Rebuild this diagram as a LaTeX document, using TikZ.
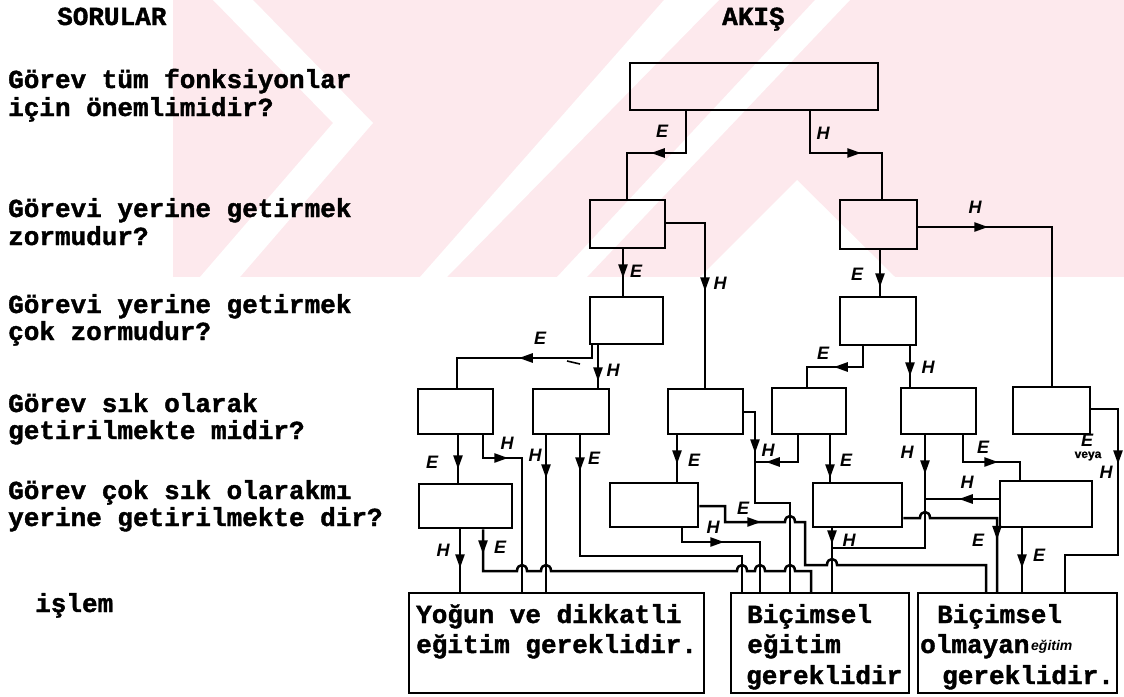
\documentclass[tikz,border=0pt]{standalone}
\usepackage{fontspec}
\setmainfont{Liberation Mono}[BoldFeatures={FakeBold=1.5}]
\newfontfamily\lab{Liberation Sans}[BoldFeatures={FakeBold=1}]
\usetikzlibrary{arrows.meta,decorations.markings}
\definecolor{wmpink}{RGB}{253,233,237}
\begin{document}
\begin{tikzpicture}[x=1pt,y=-1pt,
 qbox/.style={draw,line width=2.5pt,inner sep=0pt},
 conn/.style={line width=2.5pt},
 arrowat/.style={postaction={decorate},decoration={markings,mark=at position #1 with {\arrow{Triangle[length=14pt,width=9pt]}}}},
 lbl/.style={font=\lab\bfseries\itshape\fontsize{18}{18}\selectfont,inner sep=0pt},
 qt/.style={font=\bfseries\fontsize{26}{26}\selectfont,anchor=base west,inner sep=0pt},
 hand/.style={font=\lab\bfseries\itshape\fontsize{14}{14}\selectfont,inner sep=0pt},
 wm/.style={fill=wmpink},
 wmgap/.style={fill=white},
]
\useasboundingbox (0,0) rectangle (1124,696);
% faint watermark band
\fill[wm] (173,0) rectangle (1124,277);
\fill[wmgap] (213,0) -- (253,0) -- (373,123) -- (240,277) -- (200,277) -- (333,123) -- cycle;
\fill[wmgap] (664,0) -- (719,0) -- (447,277) -- (420,277) -- cycle;
\fill[wmgap] (815,0) -- (850,0) -- (587,277) -- (557,277) -- cycle;
\fill[wmgap] (797,180) -- (895,277) -- (700,277) -- cycle;
% headers and questions
\node[qt] (h1) at (57,25) {SORULAR};
\node[qt] (h2) at (722,25) {AKIŞ};
\node[qt] (q1a) at (8,88) {Görev tüm fonksiyonlar};
\node[qt] (q1b) at (8,116) {için önemlimidir?};
\node[qt] (q2a) at (8,217) {Görevi yerine getirmek};
\node[qt] (q2b) at (8,245) {zormudur?};
\node[qt] (q3a) at (8,313) {Görevi yerine getirmek};
\node[qt] (q3b) at (8,340) {çok zormudur?};
\node[qt] (q4a) at (8,412) {Görev sık olarak};
\node[qt] (q4b) at (8,439) {getirilmekte midir?};
\node[qt] (q5a) at (8,499) {Görev çok sık olarakmı};
\node[qt] (q5b) at (8,526) {yerine getirilmekte dir?};
\node[qt] (q6) at (35,612) {işlem};
% boxes
\node[qbox,minimum width=248pt,minimum height=47pt] (T) at (754,86.5) {};
\node[qbox,minimum width=75pt,minimum height=48pt] (L2) at (627.5,224) {};
\node[qbox,minimum width=77pt,minimum height=49pt] (R2) at (878.5,224.5) {};
\node[qbox,minimum width=73pt,minimum height=47pt] (L3) at (626.5,320.5) {};
\node[qbox,minimum width=76pt,minimum height=48pt] (R3) at (878,321) {};
\node[qbox,minimum width=75pt,minimum height=45pt] (A4) at (455.5,411.5) {};
\node[qbox,minimum width=76pt,minimum height=45pt] (B4) at (571,411.5) {};
\node[qbox,minimum width=75pt,minimum height=45pt] (C4) at (705.5,411.5) {};
\node[qbox,minimum width=74pt,minimum height=46pt] (D4) at (809,411) {};
\node[qbox,minimum width=75pt,minimum height=46pt] (E4) at (938.5,411) {};
\node[qbox,minimum width=77pt,minimum height=47pt] (F4) at (1051.5,410.5) {};
\node[qbox,minimum width=93pt,minimum height=44pt] (A5) at (465.5,506) {};
\node[qbox,minimum width=88pt,minimum height=44pt] (C5) at (654,505) {};
\node[qbox,minimum width=89pt,minimum height=44pt] (D5) at (857.5,505) {};
\node[qbox,minimum width=92pt,minimum height=46pt] (F5) at (1046,504) {};
\node[qbox,minimum width=295pt,minimum height=100pt] (O1) at (556.5,643) {};
\node[qbox,minimum width=178pt,minimum height=100pt] (O2) at (820,643) {};
\node[qbox,minimum width=199pt,minimum height=100pt] (O3) at (1017.5,643) {};
% output texts
\node[qt] (o1a) at (416,623) {Yoğun ve dikkatli};
\node[qt] (o1b) at (416,653) {eğitim gereklidir.};
\node[qt] (o2a) at (747,623) {Biçimsel};
\node[qt] (o2b) at (747,653) {eğitim};
\node[qt] (o2c) at (746,684) {gereklidir};
\node[qt] (o3a) at (937,623) {Biçimsel};
\node[qt] (o3b) at (920,653) {olmayan};
\node[hand,anchor=base west] (o3h) at (1031,650) {eğitim};
\node[qt] (o3c) at (942,684) {gereklidir.};
% connectors
\draw[conn,arrowat=77pt] (686,0 |- T.south) -- (686,153) -- (627,153) -- (627,0 |- L2.north);
\draw[conn,arrowat=93pt] (810,0 |- T.south) -- (810,153) -- (882,153) -- (882,0 |- R2.north);
\draw[conn,arrowat=29pt] (623,0 |- L2.south) -- (623,0 |- L3.north);
\draw[conn,arrowat=107pt] (0,223 -| L2.east) -- (705,223) -- (705,0 |- C4.north);
\draw[conn,arrowat=37pt] (880,0 |- R2.south) -- (880,0 |- R3.north);
\draw[conn,arrowat=70pt] (0,227 -| R2.east) -- (1052,227) -- (1052,0 |- F4.north);
\draw[conn,arrowat=86pt] (592,0 |- L3.south) -- (592,358) -- (457,358) -- (457,0 |- A4.north);
\draw[conn,line width=1.6pt] (567,361) -- (580,364);
\draw[conn,arrowat=36pt] (598,0 |- L3.south) -- (598,0 |- B4.north);
\draw[conn,arrowat=50pt] (863,0 |- R3.south) -- (863,367) -- (807,367) -- (807,0 |- D4.north);
\draw[conn,arrowat=30pt] (910,0 |- R3.south) -- (910,0 |- E4.north);
% row 4
\draw[conn,arrowat=34pt] (458,0 |- A4.south) -- (458,0 |- A5.north);
\draw[conn,arrowat=48pt] (483,0 |- A4.south) -- (483,458) -- (522,458) -- (522,0 |- O1.north);
\draw[conn,arrowat=43pt] (546,0 |- B4.south) -- (546,0 |- O1.north);
\draw[conn,arrowat=36pt] (580,0 |- B4.south) -- (580,556) -- (742,556) -- (742,0 |- O2.north);
\draw[conn,arrowat=29pt] (677,0 |- C4.south) -- (677,0 |- C5.north);
\draw[conn,arrowat=52pt] (0,412 -| C4.east) -- (755,412) -- (755,503) -- (790,503) -- (790,0 |- O2.north);
\draw[conn,arrowat=59pt] (798,0 |- D4.south) -- (798,462) -- (755,462);
\draw[conn,arrowat=43pt] (830,0 |- D4.south) -- (830,0 |- D5.north);
\draw[conn,arrowat=39pt] (925,0 |- E4.south) -- (925,548) -- (832,548);
\draw[conn,arrowat=62pt] (963,0 |- E4.south) -- (963,462) -- (1020,462) -- (1020,0 |- F5.north);
\draw[conn,arrowat=82pt] (0,409 -| F4.east) -- (1118,409) -- (1118,555) -- (1065,555) -- (1065,0 |- O3.north);
% row 5
\draw[conn,arrowat=39pt] (460,0 |- A5.south) -- (460,0 |- O1.north);
\draw[conn,arrowat=25pt] (483,0 |- A5.south) -- (483,571)
  -- (517,571) .. controls (517,563) and (527,563) .. (527,571)
  -- (541,571) .. controls (541,563) and (551,563) .. (551,571)
  -- (737,571) .. controls (737,563) and (747,563) .. (747,571)
  -- (755,571) .. controls (755,563) and (765,563) .. (765,571)
  -- (785,571) .. controls (785,563) and (795,563) .. (795,571)
  -- (811,571) -- (811,0 |- O2.north);
\draw[conn,arrowat=78pt] (0,506 -| C5.east) -- (725,506) -- (725,522)
  -- (785,522) .. controls (785,514) and (795,514) .. (795,522)
  -- (805,522) -- (805,565)
  -- (827,565) .. controls (827,557) and (837,557) .. (837,565)
  -- (986,565) -- (986,0 |- O3.north);
\draw[conn,arrowat=56pt] (682,0 |- C5.south) -- (682,542) -- (760,542) -- (760,0 |- O2.north);
\draw[conn,arrowat=16pt] (832,0 |- D5.south) -- (832,0 |- O2.north);
\draw[conn,arrowat=123pt] (0,518 -| D5.east) -- (920,518) .. controls (920,510) and (930,510) .. (930,518) -- (997,518) -- (997,0 |- O3.north);
\draw[conn,arrowat=40pt] (0,499 -| F5.west) -- (925,499);
\draw[conn,arrowat=40pt] (1022,0 |- F5.south) -- (1022,0 |- O3.north);
% labels
\node[lbl] (l1) at (662,131) {E};
\node[lbl] (l2) at (823,133) {H};
\node[lbl] (l3) at (636,271) {E};
\node[lbl] (l4) at (720,283) {H};
\node[lbl] (l5) at (857,274) {E};
\node[lbl] (l6) at (975,207) {H};
\node[lbl] (l7) at (540,338) {E};
\node[lbl] (l8) at (613,370) {H};
\node[lbl] (l9) at (823,353) {E};
\node[lbl] (l10) at (928,367) {H};
\node[lbl] (l11) at (432,462) {E};
\node[lbl] (l12) at (507,443) {H};
\node[lbl] (l13) at (535,455) {H};
\node[lbl] (l14) at (594,458) {E};
\node[lbl] (l15) at (694,460) {E};
\node[lbl] (l16) at (768,450) {H};
\node[lbl] (l17) at (846,460) {E};
\node[lbl] (l18) at (907,452) {H};
\node[lbl] (l19) at (983,447) {E};
\node[lbl] (l20) at (443,550) {H};
\node[lbl] (l21) at (500,547) {E};
\node[lbl] (l22) at (743,508) {E};
\node[lbl] (l23) at (713,527) {H};
\node[lbl] (l24) at (849,540) {H};
\node[lbl] (l25) at (967,482) {H};
\node[lbl] (l26) at (978,540) {E};
\node[lbl] (l27) at (1039,555) {E};
\node[lbl] (l28) at (1087,440) {E};
\node[lbl,font=\lab\bfseries\fontsize{12}{12}\selectfont] (l29) at (1088,456) {veya};
\node[lbl] (l30) at (1106,472) {H};
\end{tikzpicture}
\end{document}
